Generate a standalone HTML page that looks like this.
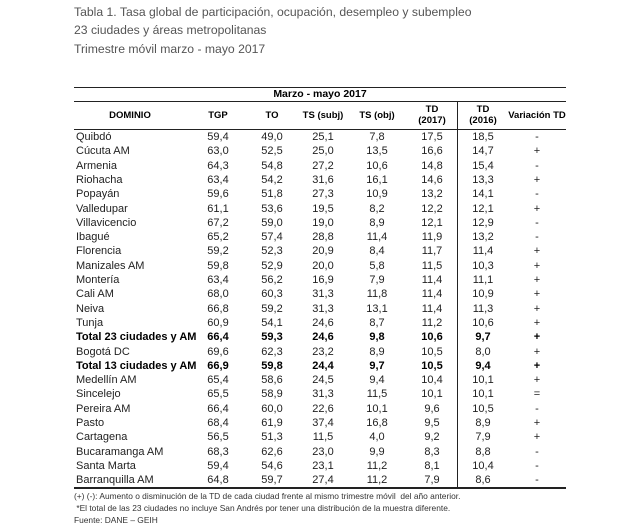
<!DOCTYPE html>
<html><head><meta charset="utf-8"><style>
body{margin:0;width:640px;height:527px;background:#fff;position:relative;font-family:"Liberation Sans",sans-serif;overflow:hidden}
.t{position:absolute;left:74px;font-size:12.2px;color:#555;white-space:nowrap}
.f{position:absolute;left:74px;font-size:8.4px;color:#333;white-space:nowrap}
.r{position:absolute;left:74px;width:492px;height:14px;font-size:11px;color:#222;line-height:14px}
.r span{position:absolute;text-align:center;width:60px}
.r span:first-child{left:2px;text-align:left;width:150px}
.b{font-weight:bold;color:#000}
.h{position:absolute;font-size:9.5px;font-weight:bold;text-align:center;line-height:11px;color:#000}
.ln{position:absolute;left:74px;width:492px;background:#222}
</style></head><body>
<div class="t" style="top:5px">Tabla 1. Tasa global de participación, ocupación, desempleo y subempleo</div>
<div class="t" style="top:23px">23 ciudades y áreas metropolitanas</div>
<div class="t" style="top:42px">Trimestre móvil marzo - mayo 2017</div>
<div class="ln" style="top:87px;height:1px"></div>
<div class="h" style="left:74px;width:492px;top:89px;font-size:10.5px">Marzo - mayo 2017</div>
<div class="ln" style="top:101px;height:1px"></div>
<div class="h" style="left:90px;width:80px;top:110px">DOMINIO</div>
<div class="h" style="left:188px;width:60px;top:110px">TGP</div>
<div class="h" style="left:242px;width:60px;top:110px">TO</div>
<div class="h" style="left:293px;width:60px;top:110px">TS (subj)</div>
<div class="h" style="left:347px;width:60px;top:110px">TS (obj)</div>
<div class="h" style="left:402px;width:60px;top:104px">TD<br>(2017)</div>
<div class="h" style="left:453px;width:60px;top:104px">TD<br>(2016)</div>
<div class="h" style="left:502px;width:70px;top:110px">Variación TD</div>
<div class="ln" style="top:129px;height:1px"></div>
<div style="position:absolute;left:457px;top:102px;width:1px;height:385px;background:#222"></div>
<div id="rows"></div>
<div class="ln" style="top:487px;height:2px"></div>
<div class="f" style="top:491px">(+) (-): Aumento o disminución de la TD de cada ciudad frente al mismo trimestre móvil&nbsp; del año anterior.</div>
<div class="f" style="top:503px">&nbsp;*El total de las 23 ciudades no incluye San Andrés por tener una distribución de la muestra diferente.</div>
<div class="f" style="top:515px">Fuente: DANE – GEIH</div>
<script>
var d=[["Quibdó","59,4","49,0","25,1","7,8","17,5","18,5","-"],
["Cúcuta AM","63,0","52,5","25,0","13,5","16,6","14,7","+"],
["Armenia","64,3","54,8","27,2","10,6","14,8","15,4","-"],
["Riohacha","63,4","54,2","31,6","16,1","14,6","13,3","+"],
["Popayán","59,6","51,8","27,3","10,9","13,2","14,1","-"],
["Valledupar","61,1","53,6","19,5","8,2","12,2","12,1","+"],
["Villavicencio","67,2","59,0","19,0","8,9","12,1","12,9","-"],
["Ibagué","65,2","57,4","28,8","11,4","11,9","13,2","-"],
["Florencia","59,2","52,3","20,9","8,4","11,7","11,4","+"],
["Manizales AM","59,8","52,9","20,0","5,8","11,5","10,3","+"],
["Montería","63,4","56,2","16,9","7,9","11,4","11,1","+"],
["Cali AM","68,0","60,3","31,3","11,8","11,4","10,9","+"],
["Neiva","66,8","59,2","31,3","13,1","11,4","11,3","+"],
["Tunja","60,9","54,1","24,6","8,7","11,2","10,6","+"],
["Total 23 ciudades y AM","66,4","59,3","24,6","9,8","10,6","9,7","+",1],
["Bogotá DC","69,6","62,3","23,2","8,9","10,5","8,0","+"],
["Total 13 ciudades y AM","66,9","59,8","24,4","9,7","10,5","9,4","+",1],
["Medellín AM","65,4","58,6","24,5","9,4","10,4","10,1","+"],
["Sincelejo","65,5","58,9","31,3","11,5","10,1","10,1","="],
["Pereira AM","66,4","60,0","22,6","10,1","9,6","10,5","-"],
["Pasto","68,4","61,9","37,4","16,8","9,5","8,9","+"],
["Cartagena","56,5","51,3","11,5","4,0","9,2","7,9","+"],
["Bucaramanga AM","68,3","62,6","23,0","9,9","8,3","8,8","-"],
["Santa Marta","59,4","54,6","23,1","11,2","8,1","10,4","-"],
["Barranquilla AM","64,8","59,7","27,4","11,2","7,9","8,6","-"]];
var cx=[0,144,198,249,303,358,409,463],h="";
d.forEach(function(r,i){h+='<div class="r'+(r[8]?' b':'')+'" style="top:'+(130+i*14.3)+'px">';
for(var j=0;j<8;j++){h+='<span style="left:'+(j?cx[j]-30+'px':'2px')+'">'+r[j]+'</span>';}h+='</div>';});
document.getElementById("rows").innerHTML=h;
</script>
</body></html>
